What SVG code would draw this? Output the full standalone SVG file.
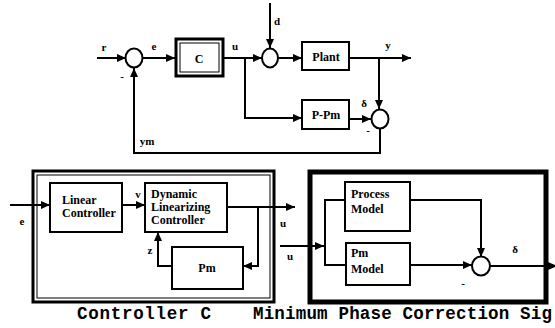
<svg xmlns="http://www.w3.org/2000/svg" width="555" height="328" viewBox="0 0 555 328">
<defs>
<marker id="ah" markerUnits="userSpaceOnUse" markerWidth="9" markerHeight="8" refX="9" refY="4" orient="auto">
<path d="M0,0 L9,4 L0,8 z" fill="#000"/>
</marker>
<style>
.blk{fill:#fff;stroke:#000;stroke-width:2}
.sum{fill:#fff;stroke:#000;stroke-width:2}
.ln{fill:none;stroke:#000;stroke-width:2}
.ar{fill:none;stroke:#000;stroke-width:2;marker-end:url(#ah)}
.t{font-family:"Liberation Serif","Times New Roman",serif;font-weight:bold;font-size:12px;fill:#000}
.lb{font-family:"Liberation Serif","Times New Roman",serif;font-weight:bold;font-size:11px;fill:#000}
.cap{font-family:"Liberation Mono","Courier New",monospace;font-weight:bold;font-size:17.5px;fill:#000}
</style>
</defs>
<rect width="555" height="328" fill="#fff"/>

<g id="connectors">
<path class="ar" d="M97,58 H126"/>
<path class="ar" d="M143,58 H175"/>
<path class="ar" d="M223,58 H262"/>
<path class="ar" d="M245,58 V118 H302"/>
<path class="ar" d="M270,3 V48"/>
<path class="ar" d="M279,58 H302"/>
<path class="ar" d="M349,58 H411"/>
<path class="ar" d="M379,58 V109"/>
<path class="ar" d="M349,119 H371"/>
<path class="ar" d="M380,128 V153 H134 V68"/>

<path class="ar" d="M10,205 H50"/>
<path class="ar" d="M122,205 H145"/>
<path class="ar" d="M227,207 H295"/>
<path class="ar" d="M258,207 V266 H243"/>
<path class="ar" d="M172,266 H158 V232"/>

<path class="ar" d="M280,246 H324"/>
<path class="ln" d="M345,200 H325 V265 H346"/>
<path class="ar" d="M410,200 H481 V257"/>
<path class="ar" d="M410,265 H472"/>
<path class="ar" d="M490,266 H557"/>
</g>

<g id="sum1"><ellipse class="sum" cx="134" cy="58" rx="8.5" ry="9.5"/></g>
<g id="blockC">
<rect x="176" y="39" width="47" height="37" fill="#fff" stroke="#000" stroke-width="3"/>
<rect x="180" y="43" width="39" height="29" fill="none" stroke="#000" stroke-width="1"/>
<text class="t" x="199" y="63" text-anchor="middle" font-size="14">C</text>
</g>
<g id="sum2"><ellipse class="sum" cx="270" cy="58" rx="8" ry="9.5"/></g>
<g id="plant">
<rect class="blk" x="302" y="42" width="47" height="28"/>
<text class="t" x="326" y="61" text-anchor="middle">Plant</text>
</g>
<g id="ppm">
<rect class="blk" x="302" y="100" width="47" height="29"/>
<text class="t" x="326" y="119" text-anchor="middle">P-Pm</text>
</g>
<g id="sum3"><ellipse class="sum" cx="380" cy="119" rx="8.5" ry="9.5"/></g>

<g id="labels-top">
<text class="lb" x="104" y="51" text-anchor="middle">r</text>
<text class="lb" x="154" y="50" text-anchor="middle">e</text>
<text class="lb" x="235" y="50" text-anchor="middle">u</text>
<text class="lb" x="277" y="25" text-anchor="middle">d</text>
<text class="lb" x="388" y="49" text-anchor="middle">y</text>
<text class="lb" x="364" y="107" text-anchor="middle">δ</text>
<text class="lb" x="122" y="80" text-anchor="middle">-</text>
<text class="lb" x="368" y="134" text-anchor="middle">-</text>
<text class="lb" x="147" y="145" text-anchor="middle">ym</text>
</g>

<g id="controllerC">
<rect x="33" y="171" width="241" height="131" fill="none" stroke="#000" stroke-width="3"/>
<rect x="37" y="175" width="233" height="123" fill="none" stroke="#000" stroke-width="1"/>
</g>
<g id="linearController">
<rect class="blk" x="50" y="183" width="72" height="49"/>
<text class="t" x="62" y="204">Linear</text>
<text class="t" x="62" y="217">Controller</text>
</g>
<g id="dlc">
<rect class="blk" x="145" y="183" width="82" height="49"/>
<text class="t" x="151" y="198">Dynamic</text>
<text class="t" x="151" y="211">Linearizing</text>
<text class="t" x="151" y="224">Controller</text>
</g>
<g id="pm">
<rect class="blk" x="172" y="247" width="71" height="42"/>
<text class="t" x="207" y="272" text-anchor="middle">Pm</text>
</g>
<g id="labels-left">
<text class="lb" x="22" y="225" text-anchor="middle">e</text>
<text class="lb" x="138" y="198" text-anchor="middle">v</text>
<text class="lb" x="150" y="254" text-anchor="middle">z</text>
<text class="lb" x="283" y="227" text-anchor="middle">u</text>
</g>

<g id="mpcs">
<rect x="310" y="172" width="236" height="130" fill="none" stroke="#000" stroke-width="5"/>
</g>
<g id="processModel">
<rect class="blk" x="345" y="182" width="65" height="49"/>
<text class="t" x="351" y="198">Process</text>
<text class="t" x="351" y="213">Model</text>
</g>
<g id="pmModel">
<rect class="blk" x="346" y="243" width="64" height="42"/>
<text class="t" x="351" y="257">Pm</text>
<text class="t" x="351" y="273">Model</text>
</g>
<g id="sum4"><ellipse class="sum" cx="481" cy="266" rx="9" ry="9.5"/></g>
<g id="labels-right">
<text class="lb" x="290" y="260" text-anchor="middle">u</text>
<text class="lb" x="515" y="253" text-anchor="middle">δ</text>
<text class="lb" x="463" y="287" text-anchor="middle">-</text>
</g>

<g id="captions">
<text class="cap" x="77" y="319" textLength="134" lengthAdjust="spacing">Controller C</text>
<text class="cap" x="253" y="319" textLength="299" lengthAdjust="spacing">Minimum Phase Correction Sig</text>
</g>
</svg>
